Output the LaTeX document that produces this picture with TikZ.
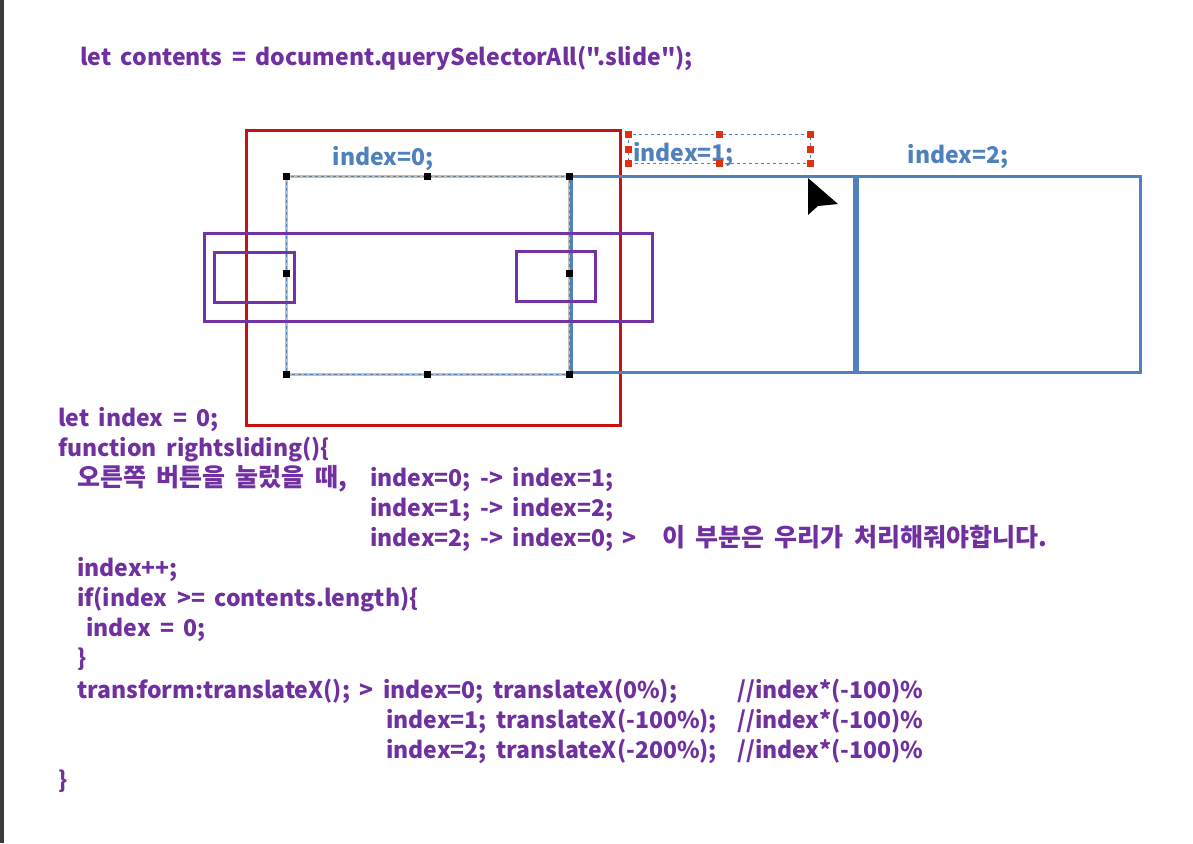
\documentclass[tikz,border=0pt]{standalone}
\usepackage{fontspec}
\newfontfamily\codefont{Noto Sans CJK KR}[WordSpace=1.8]
\definecolor{codepurple}{HTML}{7030A0}
\definecolor{boxpurple}{HTML}{7234A4}
\definecolor{slideblue}{HTML}{4F81BD}
\definecolor{slidered}{HTML}{C81212}
\definecolor{selgray}{HTML}{C4C0B0}
\definecolor{handlered}{HTML}{E03010}
\definecolor{bargray}{HTML}{3A3A3A}
\begin{document}
\begin{tikzpicture}[x=1pt,y=-1pt,
    code/.style={anchor=base west,inner sep=0pt,text=codepurple,font=\codefont\bfseries\fontsize{23}{23}\selectfont},
    kor/.style={code,font=\codefont\bfseries\fontsize{25}{25}\selectfont},
    idx/.style={anchor=base,inner sep=0pt,text=slideblue,font=\codefont\bfseries\fontsize{23}{23}\selectfont},
    handle/.style={fill=black,minimum size=7pt,inner sep=0pt},
    rhandle/.style={fill=handlered,minimum size=7pt,inner sep=0pt}]
    \useasboundingbox (0,0) rectangle (1193,843);
    \fill[white] (0,0) rectangle (1193,843);
    \fill[bargray] (0,0) rectangle (4,843);

    % Slides %
    \draw[slidered,line width=3pt] (246,130) rectangle (620,425);
    \draw[selgray,line width=3pt] (286,176) rectangle (569,374);
    \draw[slideblue,dashed,line width=0.6pt] (286,176) rectangle (569,374);
    \draw[slideblue,line width=3pt] (571,176) rectangle (854,372);
    \draw[slideblue,line width=3pt] (857,176) rectangle (1140,372);

    % Buttons %
    \draw[boxpurple,line width=3pt] (204,233) rectangle (652,321);
    \draw[boxpurple,line width=3pt] (214,252) rectangle (294,302);
    \draw[boxpurple,line width=3pt] (516,251) rectangle (595,301);

    \foreach \p [count=\i] in {(286,176),(427,176),(569,176),(286,273),(569,273),(286,374),(427,374),(569,374)}
        \node[handle] (h\i) at \p {};

    % Labels %
    \node[idx] (idx0) at (383,165) {index=0;};
    \node[idx,anchor=base west] (idx1) at (633,161) {index=1;};
    \node[idx] (idx2) at (958,163) {index=2;};
    \draw[slideblue,dashed,line width=0.8pt] (628,134) rectangle (810,163);
    \foreach \p [count=\i] in {(628,134),(719,134),(810,134),(628,149),(810,149),(628,163),(719,163),(810,163)}
        \node[rhandle] (r\i) at \p {};

    % Cursor %
    \fill[black] (808,178) -- (808,215) -- (818,206) -- (838,204) -- cycle;

    % Code %
    \node[code] (sel) at (80,65) {let contents = document.querySelectorAll(".slide");};
    \node[code] (l1) at (58,426) {let index = 0;};
    \node[code] (l2) at (58,456) {function rightsliding()\{};
    \node[kor] (l3) at (77,486) {오른쪽 버튼을 눌렀을 때,};
    \node[code] (l3b) at (370,486) {index=0; -> index=1;};
    \node[code] (l4) at (370,516) {index=1; -> index=2;};
    \node[code] (l5) at (370,546) {index=2; -> index=0; >};
    \node[kor] (l5b) at (662,546) {이 부분은 우리가 처리해줘야합니다.};
    \node[code] (l6) at (77,576) {index++;};
    \node[code] (l7) at (77,606) {if(index >= contents.length)\{};
    \node[code] (l8) at (86,636) {index = 0;};
    \node[code] (l9) at (77,666) {\}};
    \node[code] (t0) at (77,698) {transform:translateX(); >};
    \node[code] (t0b) at (383,698) {index=0; translateX(0\%);};
    \node[code] (t1) at (386,728) {index=1; translateX(-100\%);};
    \node[code] (t2) at (386,758) {index=2; translateX(-200\%);};
    \foreach \yy [count=\i] in {698,728,758}
        \node[code] (c\i) at (737,\yy) {//index*(-100)\%};
    \node[code] (l10) at (58,788) {\}};
\end{tikzpicture}
\end{document}
